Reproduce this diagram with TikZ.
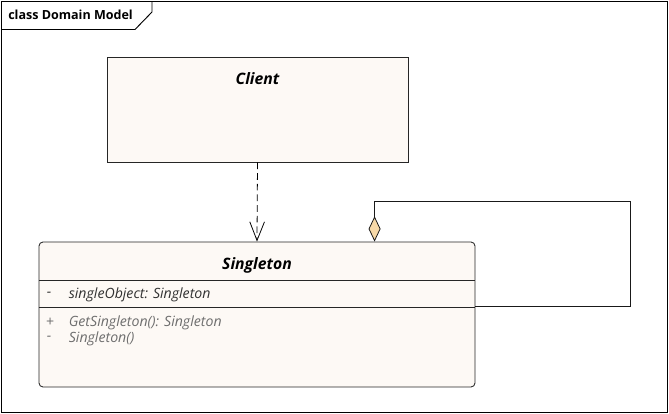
\documentclass[tikz,border=0pt]{standalone}
\usepackage{fontspec}
\setmainfont{Open Sans}
\usetikzlibrary{
    positioning,
    calc,
    arrows.meta
}
\definecolor{fondoclase}{RGB}{253,249,245}
\definecolor{rombo}{RGB}{247,217,168}
\definecolor{grismetodo}{RGB}{110,110,110}
\definecolor{grisatributo}{RGB}{50,50,50}
\tikzset{
    >=Stealth,
    marco/.style={
        draw=black,
        line width=0.7pt
    },
    clase/.style={
        draw=black!85,
        fill=fondoclase,
        line width=0.65pt,
        inner sep=0pt
    },
    nombre/.style={
        font=\fontsize{11.8}{14}\selectfont\bfseries\itshape
    },
    miembro/.style={
        font=\fontsize{10.6}{12}\selectfont\itshape,
        anchor=west,
        inner sep=0pt
    },
    dependencia/.style={
        draw=black,
        line width=0.6pt,
        dash pattern=on 5pt off 3pt,
        -{Straight Barb[length=14pt,width=11pt]}
    },
    agregacion/.style={
        draw=black!90,
        line width=0.6pt,
        {Diamond[length=19pt,width=9pt,fill=rombo]}-
    }
}
\begin{document}
\begin{tikzpicture}[
    x=0.75pt,
    y=-0.75pt
]
    \useasboundingbox (0,0) rectangle (669,414);

    % Marco
    \draw[marco] (1,1) rectangle (667,412);
    \draw[marco] (1,29.5) -- (135,29.5) -- (152,12) -- (152,1);
    \node[anchor=west, inner sep=0pt,
          font=\fontsize{9.4}{11}\selectfont\bfseries]
        (titulo) at (8,15) {class Domain Model};

    % Clases
    \node[clase, minimum width=225.75pt, minimum height=78.75pt]
        (client) at (257.5,109.5) {};
    \node[nombre] (clientnombre) at ($(client.north)+(0,22)$) {Client};

    \node[clase, rounded corners=3pt,
          minimum width=327pt, minimum height=108.75pt]
        (singleton) at (257,314.5) {};
    \node[nombre] (singletonnombre) at ($(singleton.north)+(0,24)$) {Singleton};
    \draw[clase] ($(singleton.north west)+(0,39)$)
        -- ($(singleton.north east)+(0,39)$);
    \draw[clase] ($(singleton.north west)+(0,66)$)
        -- ($(singleton.north east)+(0,66)$);

    % Miembros
    \node[miembro, text=grisatributo] (marca1) at ($(singleton.north west)+(8,53)$) {-};
    \node[miembro, text=grisatributo] (atributo)
        at ($(singleton.north west)+(30,53)$) {singleObject: Singleton};
    \node[miembro, text=grismetodo] (marca2) at ($(singleton.north west)+(7,81)$) {+};
    \node[miembro, text=grismetodo] (metodo1)
        at ($(singleton.north west)+(30,81)$) {GetSingleton(): Singleton};
    \node[miembro, text=grismetodo] (marca3) at ($(singleton.north west)+(8,97)$) {-};
    \node[miembro, text=grismetodo] (metodo2)
        at ($(singleton.north west)+(30,97)$) {Singleton()};

    % Relaciones
    \draw[dependencia] (client.south) -- (singleton.north);

    \coordinate (agg)     at ($(singleton.north west)+(336,0)$);
    \coordinate (esquina) at (630,201);
    \coordinate (vuelta)  at ($(singleton.north east)+(0,65)$);
    \draw[agregacion] (agg) |- (esquina) |- (vuelta);

\end{tikzpicture}
\end{document}
